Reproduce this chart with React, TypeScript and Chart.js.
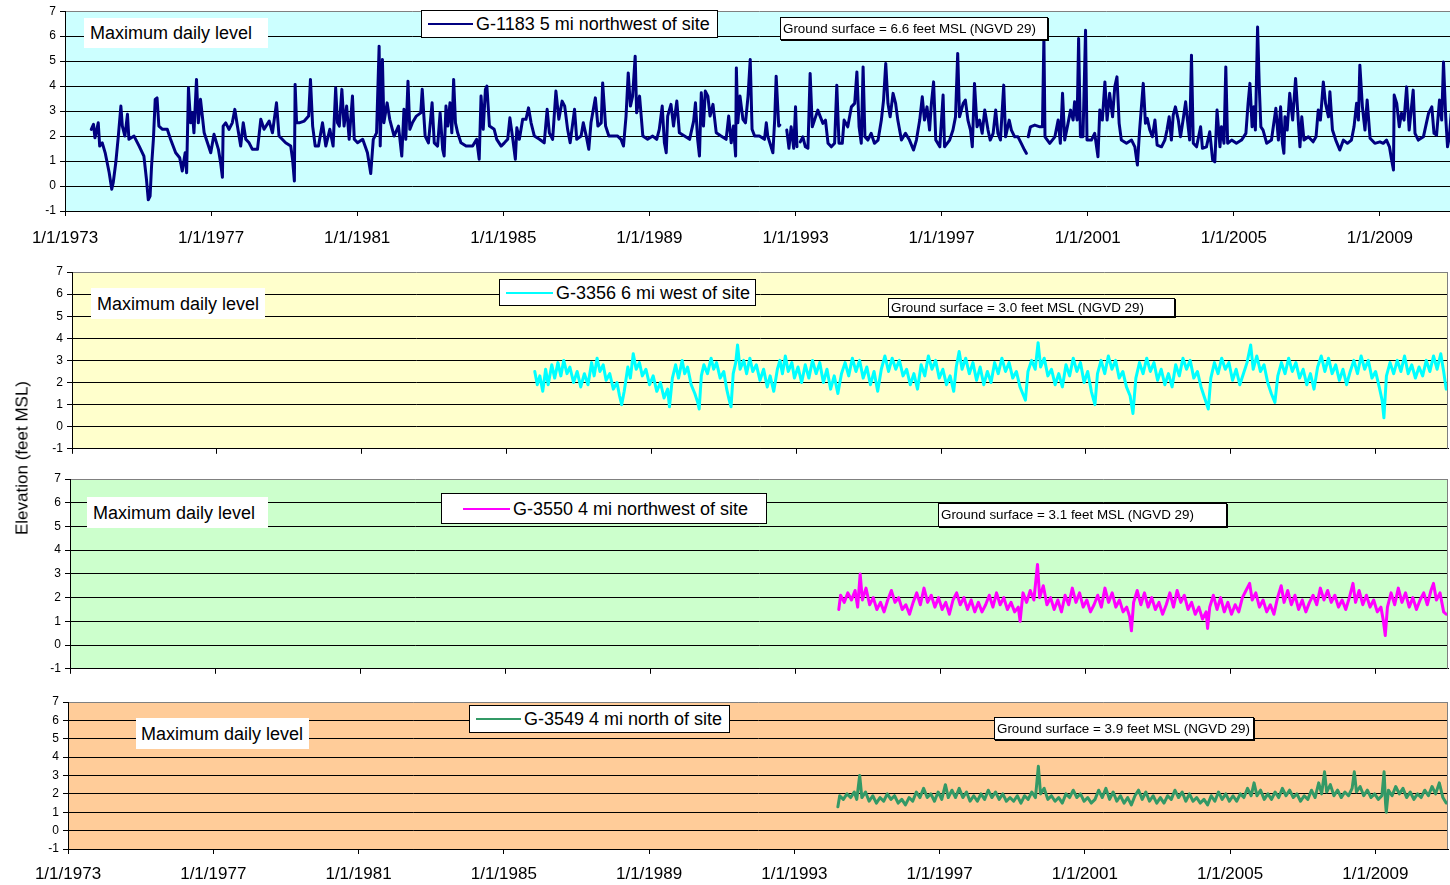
import React, { useEffect, useRef } from 'react';
import { Chart, registerables } from 'chart.js';

Chart.register(...registerables);

const FONT = "'Liberation Sans', Arial, Helvetica, sans-serif";

const xTickYears = [1973, 1977, 1981, 1985, 1989, 1993, 1997, 2001, 2005, 2009];
const xTickLabels = ['1/1/1973', '1/1/1977', '1/1/1981', '1/1/1985', '1/1/1989', '1/1/1993', '1/1/1997', '1/1/2001', '1/1/2005', '1/1/2009'];
const yTickValues = [-1, 0, 1, 2, 3, 4, 5, 6, 7];
const yTickLabels = ['-1', '0', '1', '2', '3', '4', '5', '6', '7'];

// G-1183: [decimal year, maximum daily level (ft MSL)]
const g1183: [number, number | null][] = [
  [1973.72, 2.27], [1973.78, 2.47], [1973.82, 1.93], [1973.91, 2.53], [1973.95, 1.6], [1974.02, 1.73], [1974.10, 1.33], [1974.21, 0.53], [1974.28, -0.13], [1974.32, 0.13], [1974.39, 0.93], [1974.46, 2.0], [1974.53, 3.2], [1974.57, 2.4], [1974.64, 2.0], [1974.71, 2.87], [1974.75, 1.87], [1974.89, 2.0], [1975.03, 1.6], [1975.16, 1.2], [1975.23, 0.27], [1975.28, -0.55], [1975.33, -0.4], [1975.37, 0.8], [1975.42, 1.87], [1975.47, 3.47], [1975.52, 3.53], [1975.57, 2.4], [1975.67, 2.27], [1975.80, 2.27], [1975.89, 1.87], [1976.03, 1.33], [1976.14, 1.13], [1976.21, 0.6], [1976.29, 1.33], [1976.33, 0.53], [1976.38, 3.93], [1976.44, 2.53], [1976.49, 2.93], [1976.53, 2.13], [1976.60, 4.27], [1976.65, 2.53], [1976.71, 3.47], [1976.81, 2.13], [1976.90, 1.73], [1976.99, 1.33],
  [1977.08, 2.07], [1977.20, 1.47], [1977.26, 0.93], [1977.31, 0.35], [1977.33, 2.4], [1977.40, 2.53], [1977.49, 2.27], [1977.58, 2.53], [1977.65, 3.07], [1977.72, 2.4], [1977.81, 1.6], [1977.88, 2.53], [1977.95, 1.87], [1978.04, 1.73], [1978.13, 1.47], [1978.27, 1.47], [1978.36, 2.67], [1978.45, 2.27], [1978.59, 2.6], [1978.68, 2.13], [1978.79, 3.33], [1978.86, 2.0], [1979.04, 1.73], [1979.18, 1.6], [1979.23, 1.07], [1979.28, 0.2], [1979.30, 4.07], [1979.34, 2.53], [1979.41, 2.53], [1979.55, 2.6], [1979.67, 2.8], [1979.72, 4.27], [1979.78, 2.4], [1979.85, 1.6], [1979.94, 1.6], [1980.05, 2.53], [1980.14, 1.6], [1980.25, 2.27], [1980.34, 1.6], [1980.41, 3.93], [1980.46, 2.53], [1980.51, 2.4], [1980.58, 3.87], [1980.64, 2.4], [1980.71, 3.2], [1980.78, 1.87], [1980.87, 3.6], [1980.92, 1.87],
  [1981.01, 1.73], [1981.15, 1.87], [1981.28, 1.33], [1981.37, 0.5], [1981.44, 1.87], [1981.53, 2.13], [1981.60, 5.6], [1981.63, 1.6], [1981.69, 5.07], [1981.73, 2.53], [1981.82, 3.33], [1981.89, 2.67], [1982.01, 2.0], [1982.13, 2.4], [1982.22, 1.2], [1982.28, 3.07], [1982.33, 1.87], [1982.39, 4.2], [1982.44, 2.27], [1982.51, 2.53], [1982.62, 2.8], [1982.74, 2.93], [1982.78, 3.87], [1982.86, 2.0], [1982.95, 1.73],
  [1983.05, 3.33], [1983.11, 1.73], [1983.20, 1.6], [1983.27, 2.93], [1983.34, 1.47], [1983.38, 1.2], [1983.43, 3.2], [1983.48, 2.4], [1983.54, 3.33], [1983.59, 2.13], [1983.64, 4.27], [1983.69, 2.53], [1983.75, 2.13], [1983.84, 1.73], [1983.98, 1.6], [1984.16, 1.6], [1984.27, 1.87], [1984.34, 1.07], [1984.39, 3.6], [1984.45, 2.27], [1984.51, 3.87], [1984.55, 4.0], [1984.62, 2.4], [1984.75, 2.27], [1984.82, 1.87], [1984.94, 1.6],
  [1985.03, 1.73], [1985.12, 1.87], [1985.18, 2.73], [1985.26, 1.87], [1985.33, 1.07], [1985.37, 2.33], [1985.44, 1.87], [1985.53, 2.67], [1985.62, 2.67], [1985.69, 3.13], [1985.76, 2.53], [1985.85, 2.0], [1985.99, 1.87], [1986.12, 1.73], [1986.20, 3.07], [1986.26, 2.13], [1986.35, 1.87], [1986.44, 3.8], [1986.52, 2.67], [1986.61, 3.4], [1986.68, 3.2], [1986.76, 2.27], [1986.83, 1.73], [1986.95, 3.07],
  [1987.01, 1.87], [1987.13, 2.0], [1987.19, 2.53], [1987.27, 2.0], [1987.34, 1.47], [1987.40, 2.53], [1987.52, 3.53], [1987.59, 2.4], [1987.68, 2.53], [1987.72, 4.13], [1987.80, 2.4], [1987.89, 2.0], [1988.00, 2.0], [1988.13, 2.0], [1988.22, 1.87], [1988.29, 1.6], [1988.36, 2.8], [1988.42, 4.53], [1988.48, 3.2], [1988.54, 3.6], [1988.61, 5.2], [1988.65, 2.93], [1988.73, 3.6], [1988.82, 2.0], [1988.95, 1.87],
  [1989.09, 2.0], [1989.20, 1.87], [1989.27, 2.27], [1989.35, 3.2], [1989.41, 1.73], [1989.46, 1.33], [1989.50, 2.8], [1989.59, 3.27], [1989.66, 2.4], [1989.75, 3.4], [1989.82, 2.13], [1989.96, 2.0], [1990.10, 1.87], [1990.21, 2.6], [1990.26, 3.33], [1990.32, 1.87], [1990.37, 1.2], [1990.42, 3.73], [1990.48, 2.4], [1990.53, 3.8], [1990.60, 3.6], [1990.66, 2.8], [1990.74, 3.27], [1990.83, 2.13], [1990.96, 2.0],
  [1991.10, 1.87], [1991.17, 2.8], [1991.24, 1.73], [1991.30, 2.4], [1991.36, 1.2], [1991.38, 4.73], [1991.42, 2.53], [1991.48, 3.6], [1991.56, 2.67], [1991.63, 2.53], [1991.70, 3.6], [1991.76, 5.07], [1991.81, 2.27], [1991.88, 2.0], [1992.01, 2.0], [1992.15, 1.87], [1992.20, 2.53], [1992.24, 2.0], [1992.38, 1.33], [1992.43, 2.67], [1992.47, 4.4], [1992.54, 2.4], [1992.57, 2.44], [1992.65, null],
  [1992.76, 2.24], [1992.82, 1.51], [1992.88, 2.37], [1992.95, 1.51], [1993.00, 3.17], [1993.04, 1.57], [1993.08, null], [1993.13, 1.77], [1993.20, 1.97], [1993.27, 1.57], [1993.34, 1.51], [1993.40, 4.51], [1993.46, 2.37], [1993.52, 2.64], [1993.61, 3.04], [1993.68, 2.77], [1993.75, 2.51], [1993.82, 2.64], [1993.89, 1.71], [1993.98, 1.57], [1994.07, 1.71], [1994.13, 4.04], [1994.19, 1.71], [1994.28, 1.71], [1994.33, 2.64], [1994.43, 2.37], [1994.53, 3.17], [1994.62, 3.31], [1994.68, 4.57], [1994.74, 2.37], [1994.80, 1.71], [1994.85, 4.77], [1994.90, 1.97], [1994.98, 1.84],
  [1995.07, 2.11], [1995.16, 1.71], [1995.26, 1.84], [1995.35, 2.64], [1995.41, 3.44], [1995.47, 4.91], [1995.53, 3.31], [1995.59, 2.77], [1995.67, 3.71], [1995.74, 3.31], [1995.80, 2.64], [1995.90, 1.84], [1996.01, 2.11], [1996.12, 1.84], [1996.23, 1.44], [1996.31, 1.84], [1996.40, 2.64], [1996.47, 3.57], [1996.53, 2.64], [1996.60, 3.17], [1996.67, 2.24], [1996.72, 3.31], [1996.78, 4.17], [1996.84, 1.84], [1996.95, 1.57],
  [1997.04, 3.64], [1997.08, 1.57], [1997.22, 1.84], [1997.31, 2.24], [1997.38, 2.77], [1997.44, 5.31], [1997.49, 2.77], [1997.59, 3.31], [1997.65, 3.44], [1997.72, 2.64], [1997.79, 2.24], [1997.84, 1.57], [1997.90, 4.11], [1997.97, 2.37], [1998.04, 2.64], [1998.11, 2.11], [1998.18, 3.04], [1998.27, 2.24], [1998.33, 1.84], [1998.41, 2.11], [1998.48, 3.04], [1998.54, 2.11], [1998.61, 1.84], [1998.70, 4.04], [1998.75, 1.97], [1998.85, 2.64], [1998.91, 2.24],
  [1999.00, 1.97], [1999.09, 1.97], [1999.18, 1.71], [1999.27, 1.44], [1999.32, 1.31], [1999.34, null], [1999.37, 1.97], [1999.43, 2.37], [1999.55, 2.44], [1999.69, 2.37], [1999.76, 2.37], [1999.80, 6.0], [1999.83, 1.97], [1999.96, 1.71], [2000.10, 1.97], [2000.19, 2.64], [2000.25, 1.71], [2000.31, 3.71], [2000.37, 1.84], [2000.46, 2.51], [2000.53, 3.04], [2000.60, 2.64], [2000.64, 3.37], [2000.71, 2.64], [2000.75, 5.91], [2000.80, 1.97], [2000.87, 1.97], [2000.94, 6.24], [2000.98, 1.84],
  [2001.10, 1.84], [2001.19, 2.11], [2001.28, 1.17], [2001.33, 3.04], [2001.40, 2.64], [2001.47, 4.17], [2001.53, 2.64], [2001.60, 3.71], [2001.68, 2.77], [2001.74, 3.97], [2001.80, 4.37], [2001.86, 2.51], [2001.92, 1.84], [2002.06, 1.71], [2002.20, 1.84], [2002.29, 1.57], [2002.36, 0.84], [2002.42, 2.24], [2002.52, 4.11], [2002.58, 2.51], [2002.63, 2.71], [2002.70, 2.24], [2002.77, 1.97], [2002.84, 2.64], [2002.90, 1.64],
  [2003.02, 1.57], [2003.11, 1.84], [2003.17, 2.24], [2003.23, 2.77], [2003.29, 1.84], [2003.34, 2.84], [2003.40, 3.17], [2003.48, 2.64], [2003.54, 1.97], [2003.61, 2.64], [2003.68, 3.37], [2003.73, 2.64], [2003.79, 1.84], [2003.84, 5.24], [2003.89, 1.71], [2003.98, 1.57], [2004.09, 2.37], [2004.14, 1.51], [2004.25, 1.57], [2004.34, 2.17], [2004.42, 1.04], [2004.48, 0.97], [2004.54, 3.04], [2004.62, 1.57], [2004.66, 2.37], [2004.73, 1.71], [2004.78, 4.77], [2004.83, 1.71], [2004.94, 1.84],
  [2005.07, 1.71], [2005.21, 1.84], [2005.33, 2.11], [2005.39, 3.31], [2005.44, 4.11], [2005.50, 2.37], [2005.55, 3.17], [2005.59, 2.24], [2005.65, 6.37], [2005.70, 3.84], [2005.74, 2.37], [2005.80, 2.24], [2005.90, 1.71], [2006.03, 1.84], [2006.15, 3.11], [2006.22, 1.84], [2006.28, 3.17], [2006.33, 1.71], [2006.37, 1.31], [2006.40, 2.77], [2006.46, 2.24], [2006.53, 3.71], [2006.61, 2.64], [2006.69, 4.31], [2006.74, 3.17], [2006.81, 1.57], [2006.86, 2.77], [2006.92, 1.84],
  [2007.04, 1.97], [2007.17, 1.77], [2007.25, 1.97], [2007.31, 3.04], [2007.37, 2.64], [2007.45, 4.17], [2007.51, 3.31], [2007.59, 2.77], [2007.63, 3.77], [2007.70, 2.24], [2007.79, 1.84], [2007.90, 1.44], [2008.00, 1.84], [2008.11, 1.71], [2008.22, 1.84], [2008.29, 2.37], [2008.36, 3.31], [2008.41, 2.64], [2008.45, 4.84], [2008.52, 3.17], [2008.59, 2.24], [2008.65, 3.44], [2008.73, 1.91], [2008.86, 1.71],
  [2009.00, 1.77], [2009.09, 1.71], [2009.18, 1.84], [2009.26, 1.57], [2009.32, 1.04], [2009.37, 0.64], [2009.39, 3.64], [2009.46, 3.31], [2009.53, 2.37], [2009.59, 2.91], [2009.66, 2.64], [2009.73, 3.97], [2009.80, 2.24], [2009.91, 3.84], [2009.96, 2.11], [2010.05, 1.84], [2010.19, 1.97], [2010.33, 2.91], [2010.42, 3.17], [2010.48, 2.11], [2010.55, 2.04], [2010.63, 3.44], [2010.69, 2.64], [2010.74, 4.97], [2010.80, 2.77], [2010.85, 1.57], [2010.90, 1.97], [2010.95, 2.9], [2010.98, 1.6],
];

// G-3356
const g3356: [number, number | null][] = [
  [1985.78, 2.5], [1985.85, 1.9], [1985.92, 2.3], [1986.0, 1.6], [1986.08, 2.6], [1986.15, 1.9], [1986.25, 2.8], [1986.33, 2.2], [1986.42, 2.9], [1986.5, 2.3], [1986.58, 3.0], [1986.67, 2.4], [1986.75, 2.7], [1986.85, 2.0], [1986.95, 2.5], [1987.05, 1.8], [1987.15, 2.4], [1987.25, 1.9], [1987.35, 2.9], [1987.42, 2.3], [1987.5, 3.1], [1987.58, 2.5], [1987.67, 2.8], [1987.75, 2.1], [1987.85, 2.4], [1987.95, 1.7],
  [1988.05, 2.0], [1988.12, 1.4], [1988.18, 1.0], [1988.25, 1.6], [1988.35, 2.7], [1988.42, 2.2], [1988.5, 3.3], [1988.58, 2.6], [1988.67, 2.9], [1988.75, 2.3], [1988.85, 2.6], [1988.95, 1.9], [1989.05, 2.3], [1989.15, 1.6], [1989.25, 2.0], [1989.35, 1.3], [1989.45, 1.7], [1989.5, 0.9], [1989.58, 2.2], [1989.67, 2.8], [1989.75, 2.2], [1989.85, 3.0], [1989.92, 2.4],
  [1990.0, 2.7], [1990.1, 1.9], [1990.2, 1.5], [1990.28, 1.1], [1990.32, 0.8], [1990.38, 2.3], [1990.45, 2.8], [1990.55, 2.4], [1990.65, 3.1], [1990.72, 2.6], [1990.8, 2.9], [1990.9, 2.2], [1991.0, 2.5], [1991.08, 1.7], [1991.15, 1.2], [1991.2, 0.9], [1991.26, 2.4], [1991.33, 2.9], [1991.38, 3.7], [1991.45, 2.6], [1991.55, 3.0], [1991.63, 2.4], [1991.72, 3.1], [1991.8, 2.5], [1991.9, 2.8],
  [1992.0, 2.1], [1992.1, 2.6], [1992.2, 1.8], [1992.28, 2.3], [1992.38, 1.6], [1992.48, 2.6], [1992.55, 3.0], [1992.62, 2.4], [1992.7, 3.2], [1992.78, 2.5], [1992.88, 2.9], [1992.95, 2.2], [1993.05, 2.7], [1993.15, 2.0], [1993.25, 2.8], [1993.35, 2.2], [1993.45, 3.0], [1993.55, 2.4], [1993.65, 2.9], [1993.75, 2.0], [1993.85, 2.6], [1993.95, 1.7],
  [1994.05, 2.3], [1994.15, 1.5], [1994.25, 2.4], [1994.35, 2.9], [1994.45, 2.3], [1994.55, 3.1], [1994.65, 2.5], [1994.75, 3.0], [1994.85, 2.2], [1994.95, 2.7], [1995.05, 1.9], [1995.15, 2.5], [1995.25, 1.6], [1995.35, 2.6], [1995.45, 3.2], [1995.55, 2.5], [1995.65, 3.1], [1995.75, 2.6], [1995.85, 3.0], [1995.95, 2.3],
  [1996.05, 2.6], [1996.15, 1.9], [1996.25, 2.4], [1996.35, 1.7], [1996.45, 2.8], [1996.55, 2.3], [1996.65, 3.2], [1996.75, 2.6], [1996.85, 3.0], [1996.95, 2.2], [1997.05, 2.6], [1997.15, 1.9], [1997.25, 2.3], [1997.35, 1.6], [1997.42, 2.7], [1997.5, 3.4], [1997.58, 2.6], [1997.68, 3.1], [1997.78, 2.4], [1997.88, 2.9], [1997.98, 2.1],
  [1998.08, 2.7], [1998.18, 1.9], [1998.28, 2.5], [1998.38, 2.0], [1998.48, 2.9], [1998.58, 2.4], [1998.68, 3.1], [1998.78, 2.5], [1998.88, 2.9], [1998.98, 2.2], [1999.08, 2.5], [1999.18, 1.8], [1999.28, 1.4], [1999.33, 1.2], [1999.4, 2.5], [1999.5, 3.0], [1999.6, 2.6], [1999.68, 3.8], [1999.75, 2.7], [1999.85, 3.1], [1999.95, 2.3],
  [2000.05, 2.6], [2000.15, 1.9], [2000.25, 2.4], [2000.35, 1.8], [2000.45, 2.8], [2000.55, 2.3], [2000.65, 3.1], [2000.75, 2.5], [2000.85, 2.9], [2000.95, 2.0], [2001.05, 2.5], [2001.15, 1.6], [2001.25, 1.0], [2001.32, 2.4], [2001.42, 3.0], [2001.52, 2.4], [2001.62, 3.2], [2001.72, 2.6], [2001.82, 3.0], [2001.92, 2.2],
  [2002.02, 2.5], [2002.12, 1.8], [2002.22, 1.4], [2002.3, 0.6], [2002.38, 2.2], [2002.48, 2.9], [2002.58, 2.4], [2002.68, 3.1], [2002.78, 2.5], [2002.88, 2.9], [2002.98, 2.1], [2003.08, 2.6], [2003.18, 1.9], [2003.28, 2.4], [2003.38, 1.8], [2003.48, 2.8], [2003.58, 2.3], [2003.68, 3.1], [2003.78, 2.6], [2003.88, 3.0], [2003.98, 2.2],
  [2004.08, 2.5], [2004.18, 1.8], [2004.28, 1.3], [2004.38, 0.8], [2004.45, 2.2], [2004.55, 2.9], [2004.65, 2.4], [2004.75, 3.1], [2004.85, 2.6], [2004.95, 2.9], [2005.05, 2.1], [2005.15, 2.6], [2005.25, 1.9], [2005.35, 2.4], [2005.45, 2.9], [2005.55, 3.7], [2005.62, 2.6], [2005.72, 3.2], [2005.82, 2.5], [2005.92, 2.8],
  [2006.02, 2.0], [2006.12, 1.5], [2006.22, 1.1], [2006.3, 2.3], [2006.4, 2.9], [2006.5, 2.4], [2006.6, 3.1], [2006.7, 2.5], [2006.8, 2.9], [2006.9, 2.2], [2007.0, 2.6], [2007.1, 1.9], [2007.2, 2.4], [2007.3, 1.7], [2007.4, 2.7], [2007.5, 3.2], [2007.6, 2.5], [2007.7, 3.1], [2007.8, 2.4], [2007.9, 2.8],
  [2008.0, 2.1], [2008.1, 2.6], [2008.2, 1.9], [2008.3, 2.5], [2008.4, 3.0], [2008.5, 2.4], [2008.6, 3.2], [2008.7, 2.6], [2008.8, 3.0], [2008.9, 2.2], [2009.0, 2.5], [2009.1, 1.8], [2009.18, 1.2], [2009.23, 0.4], [2009.3, 2.3], [2009.4, 2.9], [2009.5, 2.4], [2009.6, 3.0], [2009.7, 2.5], [2009.8, 3.2], [2009.9, 2.4],
  [2010.0, 2.8], [2010.1, 2.2], [2010.2, 2.7], [2010.3, 2.3], [2010.4, 3.0], [2010.5, 2.5], [2010.6, 3.2], [2010.7, 2.6], [2010.8, 3.3], [2010.88, 2.5], [2010.95, 1.7],
];

// G-3550
const g3550: [number, number | null][] = [
  [1994.2, 1.5], [1994.25, 2.1], [1994.35, 1.8], [1994.45, 2.2], [1994.55, 1.9], [1994.65, 2.3], [1994.72, 1.6], [1994.79, 3.0], [1994.85, 1.9], [1994.95, 2.4], [1995.05, 1.7], [1995.15, 2.0], [1995.25, 1.5], [1995.35, 1.8], [1995.45, 1.4], [1995.55, 1.9], [1995.65, 2.3], [1995.75, 1.8], [1995.85, 2.0], [1995.95, 1.5],
  [1996.05, 1.7], [1996.15, 1.3], [1996.25, 1.8], [1996.35, 2.2], [1996.45, 1.7], [1996.55, 2.4], [1996.65, 1.8], [1996.75, 2.1], [1996.85, 1.6], [1996.95, 2.0], [1997.05, 1.5], [1997.15, 1.8], [1997.25, 1.3], [1997.35, 1.9], [1997.45, 2.2], [1997.55, 1.7], [1997.65, 2.0], [1997.75, 1.5], [1997.85, 1.9], [1997.95, 1.4],
  [1998.05, 1.8], [1998.15, 1.4], [1998.25, 1.7], [1998.35, 2.1], [1998.45, 1.6], [1998.55, 2.2], [1998.65, 1.7], [1998.75, 2.0], [1998.85, 1.5], [1998.95, 1.8], [1999.05, 1.4], [1999.15, 1.6], [1999.2, 1.0], [1999.28, 2.2], [1999.38, 1.8], [1999.48, 2.3], [1999.58, 1.9], [1999.68, 3.4], [1999.74, 2.0], [1999.84, 2.5], [1999.94, 1.7],
  [2000.04, 2.0], [2000.14, 1.5], [2000.24, 1.9], [2000.34, 1.4], [2000.44, 2.1], [2000.54, 1.7], [2000.64, 2.4], [2000.74, 1.8], [2000.84, 2.2], [2000.94, 1.6], [2001.04, 1.9], [2001.14, 1.4], [2001.24, 1.7], [2001.34, 2.1], [2001.44, 1.6], [2001.54, 2.4], [2001.64, 1.8], [2001.74, 2.2], [2001.84, 1.6], [2001.94, 1.9],
  [2002.04, 1.4], [2002.14, 1.6], [2002.22, 1.2], [2002.27, 0.6], [2002.33, 1.8], [2002.43, 2.3], [2002.53, 1.7], [2002.63, 2.2], [2002.73, 1.6], [2002.83, 2.0], [2002.93, 1.5], [2003.03, 1.8], [2003.13, 1.3], [2003.23, 1.7], [2003.33, 2.2], [2003.43, 1.6], [2003.53, 2.3], [2003.63, 1.8], [2003.73, 2.1], [2003.83, 1.5], [2003.93, 1.8],
  [2004.03, 1.3], [2004.13, 1.6], [2004.23, 1.1], [2004.33, 1.4], [2004.37, 0.7], [2004.43, 1.6], [2004.53, 2.1], [2004.63, 1.5], [2004.73, 2.0], [2004.83, 1.4], [2004.93, 1.8], [2005.03, 1.3], [2005.13, 1.7], [2005.23, 1.4], [2005.33, 2.0], [2005.43, 2.3], [2005.53, 2.6], [2005.6, 1.9], [2005.7, 2.2], [2005.8, 1.6], [2005.9, 1.9],
  [2006.0, 1.4], [2006.1, 1.7], [2006.2, 1.3], [2006.3, 2.0], [2006.4, 2.5], [2006.48, 1.8], [2006.58, 2.3], [2006.68, 1.7], [2006.78, 2.1], [2006.88, 1.5], [2006.98, 1.9], [2007.08, 1.4], [2007.18, 1.8], [2007.28, 2.1], [2007.38, 1.7], [2007.48, 2.4], [2007.58, 1.9], [2007.68, 2.3], [2007.78, 1.8], [2007.88, 2.1], [2007.98, 1.6],
  [2008.08, 1.9], [2008.18, 1.5], [2008.28, 2.0], [2008.38, 2.6], [2008.45, 1.8], [2008.55, 2.3], [2008.65, 1.7], [2008.75, 2.1], [2008.85, 1.6], [2008.95, 1.9], [2009.05, 1.4], [2009.15, 1.6], [2009.22, 1.0], [2009.27, 0.4], [2009.33, 1.6], [2009.43, 2.2], [2009.53, 1.7], [2009.63, 2.4], [2009.73, 1.8], [2009.83, 2.2], [2009.93, 1.6],
  [2010.03, 2.0], [2010.13, 1.5], [2010.23, 1.9], [2010.33, 2.2], [2010.43, 1.7], [2010.53, 2.3], [2010.6, 2.6], [2010.68, 1.9], [2010.78, 2.2], [2010.88, 1.4], [2010.95, 1.3],
];

// G-3549
const g3549: [number, number | null][] = [
  [1994.2, 1.3], [1994.25, 1.9], [1994.35, 1.7], [1994.45, 2.0], [1994.55, 1.8], [1994.65, 2.1], [1994.72, 1.7], [1994.8, 3.0], [1994.86, 1.8], [1994.96, 2.1], [1995.06, 1.6], [1995.16, 1.9], [1995.26, 1.5], [1995.36, 1.8], [1995.46, 1.6], [1995.56, 2.0], [1995.66, 1.7], [1995.76, 1.9], [1995.86, 1.5], [1995.96, 1.7],
  [1996.06, 1.4], [1996.16, 1.8], [1996.26, 1.6], [1996.36, 2.1], [1996.46, 1.8], [1996.56, 2.3], [1996.66, 1.8], [1996.76, 2.0], [1996.86, 1.6], [1996.96, 2.1], [1997.06, 1.7], [1997.16, 2.5], [1997.24, 1.8], [1997.34, 2.2], [1997.44, 1.8], [1997.54, 2.3], [1997.64, 1.8], [1997.74, 2.1], [1997.84, 1.6], [1997.94, 1.9],
  [1998.04, 1.6], [1998.14, 2.0], [1998.24, 1.7], [1998.34, 2.2], [1998.44, 1.8], [1998.54, 2.1], [1998.64, 1.7], [1998.74, 2.0], [1998.84, 1.6], [1998.94, 1.8], [1999.04, 1.6], [1999.14, 1.9], [1999.24, 1.5], [1999.34, 1.9], [1999.44, 1.7], [1999.54, 2.1], [1999.64, 1.8], [1999.72, 3.5], [1999.78, 2.0], [1999.88, 2.3], [1999.98, 1.7],
  [2000.08, 1.9], [2000.18, 1.6], [2000.28, 1.8], [2000.38, 1.5], [2000.48, 2.0], [2000.58, 1.8], [2000.68, 2.2], [2000.78, 1.8], [2000.88, 2.0], [2000.98, 1.6], [2001.08, 1.8], [2001.18, 1.5], [2001.28, 1.7], [2001.38, 2.2], [2001.48, 1.8], [2001.58, 2.3], [2001.68, 1.7], [2001.78, 2.1], [2001.88, 1.6], [2001.98, 1.9],
  [2002.08, 1.5], [2002.18, 1.8], [2002.28, 1.4], [2002.38, 1.9], [2002.48, 2.2], [2002.58, 1.7], [2002.68, 2.1], [2002.78, 1.6], [2002.88, 1.9], [2002.98, 1.5], [2003.08, 1.8], [2003.18, 1.5], [2003.28, 1.9], [2003.38, 1.7], [2003.48, 2.2], [2003.58, 1.8], [2003.68, 2.1], [2003.78, 1.6], [2003.88, 2.0], [2003.98, 1.6],
  [2004.08, 1.8], [2004.18, 1.5], [2004.28, 1.7], [2004.38, 1.4], [2004.48, 1.9], [2004.58, 1.6], [2004.68, 2.1], [2004.78, 1.7], [2004.88, 2.0], [2004.98, 1.6], [2005.08, 1.9], [2005.18, 1.6], [2005.28, 2.0], [2005.38, 1.8], [2005.48, 2.3], [2005.58, 1.9], [2005.66, 2.6], [2005.74, 1.9], [2005.84, 2.2], [2005.94, 1.7],
  [2006.04, 2.0], [2006.14, 1.7], [2006.24, 2.1], [2006.34, 1.8], [2006.44, 2.3], [2006.54, 1.9], [2006.64, 2.2], [2006.74, 1.8], [2006.84, 2.0], [2006.94, 1.6], [2007.04, 1.9], [2007.14, 1.7], [2007.24, 2.2], [2007.34, 1.8], [2007.44, 2.6], [2007.52, 2.0], [2007.6, 3.2], [2007.66, 2.1], [2007.76, 2.5], [2007.86, 1.9], [2007.96, 2.2],
  [2008.06, 1.8], [2008.16, 2.1], [2008.26, 1.9], [2008.36, 2.3], [2008.42, 3.2], [2008.48, 2.1], [2008.58, 2.4], [2008.68, 1.9], [2008.78, 2.2], [2008.88, 1.8], [2008.98, 2.0], [2009.08, 1.7], [2009.18, 1.9], [2009.24, 3.2], [2009.28, 1.5], [2009.3, 1.0], [2009.36, 2.2], [2009.46, 1.9], [2009.56, 2.4], [2009.66, 2.0], [2009.76, 2.3], [2009.86, 1.8], [2009.96, 2.1],
  [2010.06, 1.7], [2010.16, 2.0], [2010.26, 1.8], [2010.36, 2.2], [2010.46, 1.9], [2010.56, 2.4], [2010.66, 2.0], [2010.76, 2.6], [2010.86, 1.8], [2010.95, 1.5],
];

type Box = { l: number; t: number; w: number; h: number };
type PanelSpec = {
  id: string;
  data: [number, number | null][];
  color: string;
  bg: string;
  lineWidth: number;
  canvasTop: number;
  canvasHeight: number;
  canvasWidth: number;
  padTop: number;
  padRight: number;
  axisWidth: number;
  axisHeight: number;
  showLabels: boolean;
  labelPadding: number;
  legendText: string;
  groundText: string;
  mdl: Box & { pl: number };
  legend: Box & { ll: number; lw: number };
  ground: Box;
};

const panels: PanelSpec[] = [
  {
    id: 'p1', data: g1183, color: '#000080', bg: '#CCFFFF', lineWidth: 3,
    canvasTop: 0, canvasHeight: 250, canvasWidth: 1460, padTop: 11, padRight: 7, axisWidth: 65, axisHeight: 39,
    showLabels: true, labelPadding: 12,
    legendText: 'G-1183 5 mi northwest of site', groundText: 'Ground surface = 6.6 feet MSL (NGVD 29)',
    mdl: { l: 84, t: 18, w: 184, h: 30, pl: 6 },
    legend: { l: 421, t: 10, w: 297, h: 28, ll: 6, lw: 45 },
    ground: { l: 780, t: 17, w: 268, h: 23 },
  },
  {
    id: 'p2', data: g3356, color: '#00FFFF', bg: '#FFFFCC', lineWidth: 3,
    canvasTop: 255, canvasHeight: 205, canvasWidth: 1450, padTop: 17, padRight: 2, axisWidth: 72, axisHeight: 9,
    showLabels: false, labelPadding: 11,
    legendText: 'G-3356 6 mi west of site', groundText: 'Ground surface = 3.0 feet MSL (NGVD 29)',
    mdl: { l: 91, t: 288, w: 174, h: 31, pl: 6 },
    legend: { l: 499, t: 279, w: 257, h: 27, ll: 6, lw: 47 },
    ground: { l: 888, t: 298, w: 287, h: 19 },
  },
  {
    id: 'p3', data: g3550, color: '#FF00FF', bg: '#CCFFCC', lineWidth: 3,
    canvasTop: 465, canvasHeight: 215, canvasWidth: 1450, padTop: 14, padRight: 2, axisWidth: 70, axisHeight: 10,
    showLabels: false, labelPadding: 11,
    legendText: 'G-3550 4 mi northwest of site', groundText: 'Ground surface = 3.1 feet MSL (NGVD 29)',
    mdl: { l: 87, t: 497, w: 181, h: 31, pl: 6 },
    legend: { l: 441, t: 493, w: 326, h: 31, ll: 21, lw: 47 },
    ground: { l: 938, t: 503, w: 289, h: 24 },
  },
  {
    id: 'p4', data: g3549, color: '#339966', bg: '#FFCC99', lineWidth: 3,
    canvasTop: 690, canvasHeight: 195, canvasWidth: 1450, padTop: 12, padRight: 2, axisWidth: 68, axisHeight: 36,
    showLabels: true, labelPadding: 10,
    legendText: 'G-3549 4 mi north of site', groundText: 'Ground surface = 3.9 feet MSL (NGVD 29)',
    mdl: { l: 136, t: 718, w: 173, h: 31, pl: 5 },
    legend: { l: 469, t: 705, w: 261, h: 28, ll: 6, lw: 45 },
    ground: { l: 994, t: 717, w: 260, h: 23 },
  },
];

const panelBgPlugin = {
  id: 'panelBg',
  beforeDraw(chart: any, _args: any, opts: any) {
    const { ctx, chartArea: a } = chart;
    ctx.save();
    ctx.fillStyle = opts.color;
    ctx.fillRect(a.left, a.top, a.right - a.left, a.bottom - a.top);
    ctx.restore();
  },
  afterDraw(chart: any) {
    const { ctx, chartArea: a } = chart;
    ctx.save();
    ctx.strokeStyle = '#808080';
    ctx.lineWidth = 1;
    ctx.beginPath();
    ctx.moveTo(Math.round(a.right) - 0.5, a.top);
    ctx.lineTo(Math.round(a.right) - 0.5, a.bottom);
    ctx.stroke();
    ctx.restore();
  },
};

function Panel({ spec }: { spec: PanelSpec }) {
  const ref = useRef<HTMLCanvasElement | null>(null);
  useEffect(() => {
    if (!ref.current) return;
    const chart = new Chart(ref.current, {
      type: 'line',
      data: {
        datasets: [
          {
            data: spec.data.map(([x, y]) => ({ x, y })),
            borderColor: spec.color,
            backgroundColor: spec.color,
            borderWidth: spec.lineWidth,
            pointRadius: 0,
            tension: 0,
            fill: false,
            spanGaps: false,
            borderJoinStyle: 'round',
            borderCapStyle: 'round',
          } as any,
        ],
      },
      options: {
        animation: false,
        responsive: false,
        maintainAspectRatio: false,
        events: [],
        layout: { padding: { top: spec.padTop, right: spec.padRight, left: 0, bottom: 0 } },
        plugins: {
          legend: { display: false },
          tooltip: { enabled: false },
          title: { display: false },
          panelBg: { color: spec.bg },
        } as any,
        scales: {
          x: {
            type: 'linear',
            min: 1973,
            max: 2011,
            afterBuildTicks: (s: any) => {
              s.ticks = xTickYears.map((v) => ({ value: v }));
            },
            afterFit: (s: any) => {
              s.height = spec.axisHeight;
            },
            grid: { drawOnChartArea: false, drawTicks: true, tickLength: 5, color: '#000', tickColor: '#000', lineWidth: 1 },
            border: { display: true, color: '#000', width: 1 },
            ticks: {
              display: spec.showLabels,
              autoSkip: false,
              maxRotation: 0,
              minRotation: 0,
              padding: spec.labelPadding,
              color: '#000',
              font: { family: FONT, size: 17 },
              callback: (_v: any, i: number) => xTickLabels[i],
            },
          },
          y: {
            type: 'linear',
            min: -1,
            max: 7,
            afterBuildTicks: (s: any) => {
              s.ticks = yTickValues.map((v) => ({ value: v }));
            },
            afterFit: (s: any) => {
              s.width = spec.axisWidth;
            },
            grid: {
              color: (ctx: any) => (ctx.tick && ctx.tick.value === 7 ? '#808080' : '#000'),
              tickColor: '#000',
              tickLength: 5,
              lineWidth: 1,
            },
            border: { display: true, color: '#000', width: 1 },
            ticks: {
              color: '#000',
              padding: 4,
              font: { family: FONT, size: 12 },
              callback: (_v: any, i: number) => yTickLabels[i],
            },
          },
        },
      } as any,
      plugins: [panelBgPlugin],
    });
    return () => chart.destroy();
  }, [spec]);
  return (
    <canvas
      ref={ref}
      width={spec.canvasWidth}
      height={spec.canvasHeight}
      style={{ position: 'absolute', left: 0, top: spec.canvasTop, width: spec.canvasWidth, height: spec.canvasHeight, display: 'block' }}
    />
  );
}

function Annotations({ spec }: { spec: PanelSpec }) {
  const { mdl, legend, ground } = spec;
  return (
    <>
      <div
        style={{
          position: 'absolute', left: mdl.l, top: mdl.t, width: mdl.w, height: mdl.h, background: '#fff',
          boxSizing: 'border-box', paddingLeft: mdl.pl, display: 'flex', alignItems: 'center',
          fontFamily: FONT, fontSize: 18, color: '#000', whiteSpace: 'nowrap', lineHeight: 1,
        }}
      >
        Maximum daily level
      </div>
      <div
        style={{
          position: 'absolute', left: legend.l, top: legend.t, width: legend.w, height: legend.h, background: '#fff',
          boxSizing: 'border-box', border: '1px solid #000', display: 'flex', alignItems: 'center',
          fontFamily: FONT, fontSize: 18, color: '#000', whiteSpace: 'nowrap', lineHeight: 1,
        }}
      >
        <span style={{ display: 'inline-block', marginLeft: legend.ll, width: legend.lw, height: 2, background: spec.color }} />
        <span style={{ marginLeft: 3 }}>{spec.legendText}</span>
      </div>
      <div
        style={{
          position: 'absolute', left: ground.l, top: ground.t, width: ground.w, height: ground.h, background: '#fff',
          boxSizing: 'border-box', border: '1px solid #000', boxShadow: '1px 1px 0 #000', display: 'flex', alignItems: 'center',
          paddingLeft: 2, fontFamily: FONT, fontSize: 13.4, color: '#000', whiteSpace: 'nowrap', lineHeight: 1,
        }}
      >
        {spec.groundText}
      </div>
    </>
  );
}

export default function App() {
  return (
    <div style={{ position: 'absolute', left: 0, top: 0, width: 1450, height: 885, overflow: 'hidden', background: '#fff' }}>
      {panels.map((p) => (
        <Panel key={p.id} spec={p} />
      ))}
      {panels.map((p) => (
        <Annotations key={'a' + p.id} spec={p} />
      ))}
      <div
        style={{
          position: 'absolute', left: 22, top: 458, transform: 'translate(-50%, -50%) rotate(-90deg)',
          fontFamily: FONT, fontSize: 17, color: '#000', whiteSpace: 'nowrap', lineHeight: 1,
        }}
      >
        Elevation (feet MSL)
      </div>
    </div>
  );
}
